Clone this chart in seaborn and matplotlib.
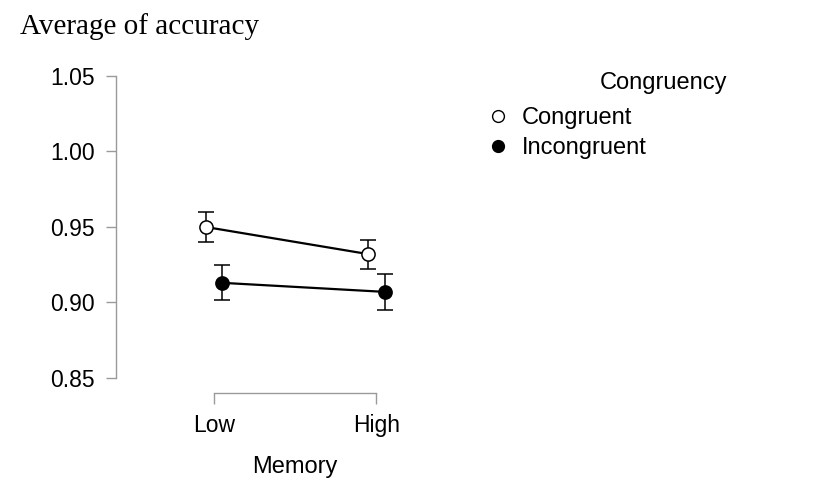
import matplotlib
matplotlib.use("Agg")
import matplotlib.pyplot as plt
from matplotlib.lines import Line2D
import seaborn as sns
import pandas as pd

# Means and error half-widths of accuracy by memory load and congruency
memory_levels = ["Low", "High"]
congruency_levels = ["Congruent", "Incongruent"]
congruent_mean = [0.950, 0.932]
congruent_err = [0.010, 0.0096]
incongruent_mean = [0.913, 0.907]
incongruent_err = [0.0115, 0.012]
y_ticks = [0.85, 0.90, 0.95, 1.00, 1.05]

sns.set_theme(style="white")
plt.rcParams["font.family"] = ["Liberation Sans", "DejaVu Sans"]
plt.rcParams["text.color"] = "black"
plt.rcParams["axes.labelcolor"] = "black"

df = pd.DataFrame({
    "Memory": memory_levels * 2,
    "Congruency": [congruency_levels[0]] * 2 + [congruency_levels[1]] * 2,
    "accuracy": congruent_mean + incongruent_mean,
})

fig = plt.figure(figsize=(8.25, 4.83), dpi=100)
ax = fig.add_axes([0.1406, 0.1863, 0.434, 0.6564])

dodge = 0.1
sns.pointplot(data=df, x="Memory", y="accuracy", hue="Congruency",
              order=memory_levels, hue_order=congruency_levels,
              palette=["black", "black"], markers="o", dodge=dodge,
              errorbar=None, markersize=9.5, linewidth=1.6,
              legend=False, ax=ax)

# open circles for the congruent series
for ln in ax.lines:
    ln.set_markeredgecolor("black")
    ln.set_markeredgewidth(1.1)
    ln.set_zorder(4)
ax.lines[0].set_markerfacecolor("white")

# error bars, placed at the dodged positions of each series
offsets = [-dodge / 2, dodge / 2]
for off, means, errs in zip(offsets, [congruent_mean, incongruent_mean],
                            [congruent_err, incongruent_err]):
    xs = [i + off for i in range(len(memory_levels))]
    ax.errorbar(xs, means, yerr=errs, fmt="none", ecolor="black",
                elinewidth=1.1, capsize=6, capthick=1.1, zorder=3)

ax.set_xlim(-0.6, 1.6)
ax.set_ylim(0.84, 1.05)
ax.set_yticks(y_ticks)
ax.set_yticklabels([f"{v:.2f}" for v in y_ticks])
ax.set_ylabel("")
ax.set_xlabel("Memory", fontsize=17, labelpad=14)

for side in ["top", "right"]:
    ax.spines[side].set_visible(False)
for side in ["left", "bottom"]:
    ax.spines[side].set_color("#9a9a9a")
    ax.spines[side].set_linewidth(1.0)
ax.spines["left"].set_bounds(0.85, 1.05)
ax.spines["bottom"].set_bounds(0, 1)
ax.tick_params(axis="y", length=7, width=1.0, color="#9a9a9a",
               labelsize=16.5, pad=8, left=True, labelcolor="black")
ax.tick_params(axis="x", length=8, width=1.0, color="#9a9a9a",
               labelsize=16.5, pad=7, bottom=True, labelcolor="black")
ax.set_facecolor("white")

handles = [
    Line2D([], [], linestyle="none", marker="o", markersize=8.5,
           markerfacecolor="white", markeredgecolor="black", markeredgewidth=1.0),
    Line2D([], [], linestyle="none", marker="o", markersize=8.5,
           markerfacecolor="black", markeredgecolor="black"),
]
fig.legend(handles, congruency_levels, loc="upper left",
           bbox_to_anchor=(0.592, 0.778), frameon=False, fontsize=17,
           handletextpad=0.62, labelspacing=0.32, borderaxespad=0,
           handlelength=0.8, borderpad=0)
fig.text(0.727, 0.828, "Congruency", fontsize=17, va="center", ha="left")

fig.text(0.024, 0.946, "Average of accuracy", fontsize=21, va="center",
         ha="left", family=["Liberation Serif", "DejaVu Serif"])

fig.savefig("out.png", dpi=100, facecolor="white")
